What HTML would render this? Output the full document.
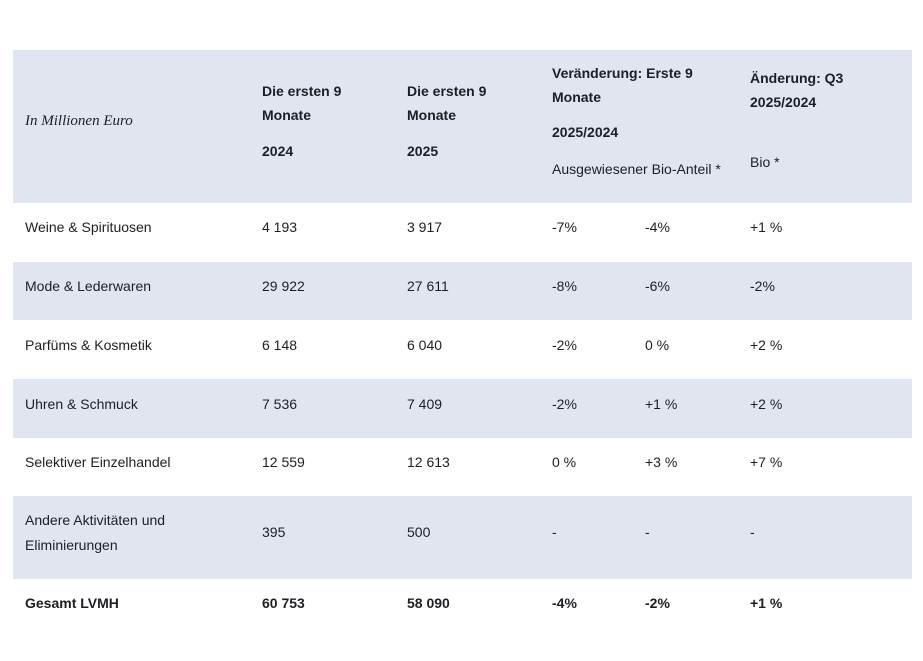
<!DOCTYPE html>
<html><head><meta charset="utf-8"><style>
body{margin:0;width:923px;height:661px;background:#fff;position:relative;overflow:hidden;font-family:"Liberation Sans",sans-serif;color:#1e1e24;font-size:14px}
.bg{position:absolute;left:13px;width:899px;background:#e1e5ef}
.t{position:absolute;white-space:nowrap;line-height:16px;transform:translateY(-8px)}
.b{font-weight:bold}
.i{font-family:"Liberation Serif",serif;font-style:italic;font-size:15px}
</style></head><body>
<div class="bg" style="top:50px;height:153px"></div>
<div class="bg" style="top:262px;height:58px"></div>
<div class="bg" style="top:379px;height:59px"></div>
<div class="bg" style="top:496px;height:83px"></div>

<div class="t i" style="left:25px;top:121px">In Millionen Euro</div>
<div class="t b" style="left:262px;top:91px">Die ersten 9</div>
<div class="t b" style="left:262px;top:115px">Monate</div>
<div class="t b" style="left:262px;top:151px">2024</div>
<div class="t b" style="left:407px;top:91px">Die ersten 9</div>
<div class="t b" style="left:407px;top:115px">Monate</div>
<div class="t b" style="left:407px;top:151px">2025</div>
<div class="t b" style="left:552px;top:73px">Veränderung: Erste 9</div>
<div class="t b" style="left:552px;top:97px">Monate</div>
<div class="t b" style="left:552px;top:132px">2025/2024</div>
<div class="t" style="left:552px;top:169px">Ausgewiesener Bio-Anteil *</div>
<div class="t b" style="left:750px;top:78px">Änderung: Q3</div>
<div class="t b" style="left:750px;top:102px">2025/2024</div>
<div class="t" style="left:750px;top:162px">Bio *</div>

<div class="t" style="left:25px;top:227px">Weine &amp; Spirituosen</div>
<div class="t" style="left:262px;top:227px">4 193</div><div class="t" style="left:407px;top:227px">3 917</div>
<div class="t" style="left:552px;top:227px">-7%</div><div class="t" style="left:645px;top:227px">-4%</div><div class="t" style="left:750px;top:227px">+1 %</div>

<div class="t" style="left:25px;top:286px">Mode &amp; Lederwaren</div>
<div class="t" style="left:262px;top:286px">29 922</div><div class="t" style="left:407px;top:286px">27 611</div>
<div class="t" style="left:552px;top:286px">-8%</div><div class="t" style="left:645px;top:286px">-6%</div><div class="t" style="left:750px;top:286px">-2%</div>

<div class="t" style="left:25px;top:345px">Parfüms &amp; Kosmetik</div>
<div class="t" style="left:262px;top:345px">6 148</div><div class="t" style="left:407px;top:345px">6 040</div>
<div class="t" style="left:552px;top:345px">-2%</div><div class="t" style="left:645px;top:345px">0 %</div><div class="t" style="left:750px;top:345px">+2 %</div>

<div class="t" style="left:25px;top:404px">Uhren &amp; Schmuck</div>
<div class="t" style="left:262px;top:404px">7 536</div><div class="t" style="left:407px;top:404px">7 409</div>
<div class="t" style="left:552px;top:404px">-2%</div><div class="t" style="left:645px;top:404px">+1 %</div><div class="t" style="left:750px;top:404px">+2 %</div>

<div class="t" style="left:25px;top:462px">Selektiver Einzelhandel</div>
<div class="t" style="left:262px;top:462px">12 559</div><div class="t" style="left:407px;top:462px">12 613</div>
<div class="t" style="left:552px;top:462px">0 %</div><div class="t" style="left:645px;top:462px">+3 %</div><div class="t" style="left:750px;top:462px">+7 %</div>

<div class="t" style="left:25px;top:520px">Andere Aktivitäten und</div>
<div class="t" style="left:25px;top:545px">Eliminierungen</div>
<div class="t" style="left:262px;top:532px">395</div><div class="t" style="left:407px;top:532px">500</div>
<div class="t" style="left:552px;top:532px">-</div><div class="t" style="left:645px;top:532px">-</div><div class="t" style="left:750px;top:532px">-</div>

<div class="t b" style="left:25px;top:603px">Gesamt LVMH</div>
<div class="t b" style="left:262px;top:603px">60 753</div><div class="t b" style="left:407px;top:603px">58 090</div>
<div class="t b" style="left:552px;top:603px">-4%</div><div class="t b" style="left:645px;top:603px">-2%</div><div class="t b" style="left:750px;top:603px">+1 %</div>
</body></html>
